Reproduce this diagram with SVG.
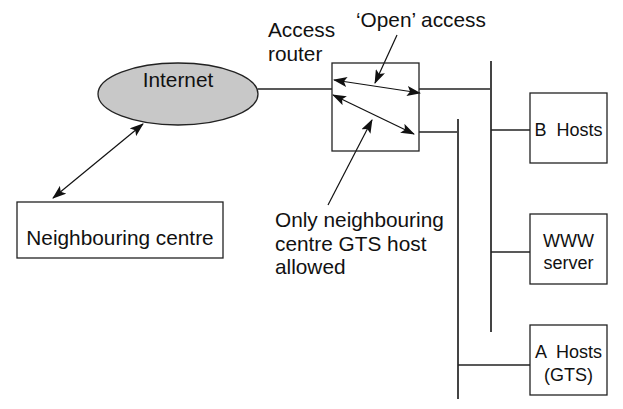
<svg xmlns="http://www.w3.org/2000/svg" width="623" height="409" viewBox="0 0 623 409">
<style>
text{font-family:"Liberation Sans",Arial,sans-serif;fill:#111}
.t20{font-size:20.8px}
.t18{font-size:18px}
.box{fill:#fff;stroke:#222;stroke-width:1.3}
.ln{stroke:#222;stroke-width:1.3;fill:none}
.bus{stroke:#444;stroke-width:2;fill:none}
.arr{stroke:#111;stroke-width:1.2;fill:none}
</style>
<defs>
<marker id="ah" viewBox="0 0 14 10" markerWidth="14" markerHeight="10" refX="13" refY="5" orient="auto-start-reverse" markerUnits="userSpaceOnUse">
<path d="M0,0 L14,5 L0,10 L3,5 z" fill="#111"/>
</marker>
</defs>
<g id="connectors">
<line class="ln" x1="258" y1="89" x2="332" y2="89"/>
<line class="ln" x1="258" y1="89" x2="147" y2="122" stroke-dasharray="9,5"/>
<line class="arr" x1="143" y1="124" x2="53" y2="198" marker-start="url(#ah)" marker-end="url(#ah)"/>
<line class="ln" x1="419" y1="89" x2="491" y2="89"/>
<line class="ln" x1="419" y1="132" x2="458" y2="132"/>
<line class="bus" x1="491" y1="61" x2="491" y2="332"/>
<line class="bus" x1="458" y1="119" x2="458" y2="399"/>
<line class="ln" x1="491" y1="130" x2="530" y2="130"/>
<line class="ln" x1="491" y1="252" x2="530" y2="252"/>
<line class="ln" x1="458" y1="365" x2="530" y2="365"/>
<line class="arr" x1="334" y1="80" x2="420" y2="93" marker-start="url(#ah)" marker-end="url(#ah)"/>
<line class="arr" x1="333" y1="95" x2="414" y2="134" marker-start="url(#ah)" marker-end="url(#ah)"/>
<line class="arr" x1="397" y1="35" x2="375" y2="83" marker-end="url(#ah)"/>
<line class="arr" x1="328" y1="205" x2="372" y2="120" marker-end="url(#ah)"/>
</g>
<g id="internet">
<ellipse cx="178" cy="94" rx="80" ry="31" fill="#c8c8c8" stroke="#222" stroke-width="1.3"/>
<text class="t20" x="178" y="87" text-anchor="middle">Internet</text>
</g>
<g id="router">
<rect x="332" y="63" width="87" height="88" fill="none" stroke="#222" stroke-width="1.3"/>
<text class="t20" x="268" y="37">Access</text>
<text class="t20" x="268" y="61">router</text>
</g>
<g id="open-label">
<text class="t20" x="356" y="27">‘Open’ access</text>
</g>
<g id="only-label">
<text class="t20" x="275" y="227">Only neighbouring</text>
<text class="t20" x="275" y="251">centre GTS host</text>
<text class="t20" x="275" y="274">allowed</text>
</g>
<g id="neighbouring">
<rect class="box" x="17" y="202" width="206" height="56"/>
<text class="t20" x="120" y="245" text-anchor="middle">Neighbouring centre</text>
</g>
<g id="bhosts">
<rect class="box" x="530" y="93" width="77" height="70"/>
<text class="t18" x="568.5" y="136" text-anchor="middle" xml:space="preserve">B  Hosts</text>
</g>
<g id="www">
<rect class="box" x="530" y="214" width="77" height="70"/>
<text class="t18" x="568.5" y="247" text-anchor="middle">WWW</text>
<text class="t18" x="568.5" y="269" text-anchor="middle">server</text>
</g>
<g id="ahosts">
<rect class="box" x="530" y="325" width="77" height="70"/>
<text class="t18" x="568.5" y="358" text-anchor="middle" xml:space="preserve">A  Hosts</text>
<text class="t18" x="568.5" y="381" text-anchor="middle">(GTS)</text>
</g>
</svg>
